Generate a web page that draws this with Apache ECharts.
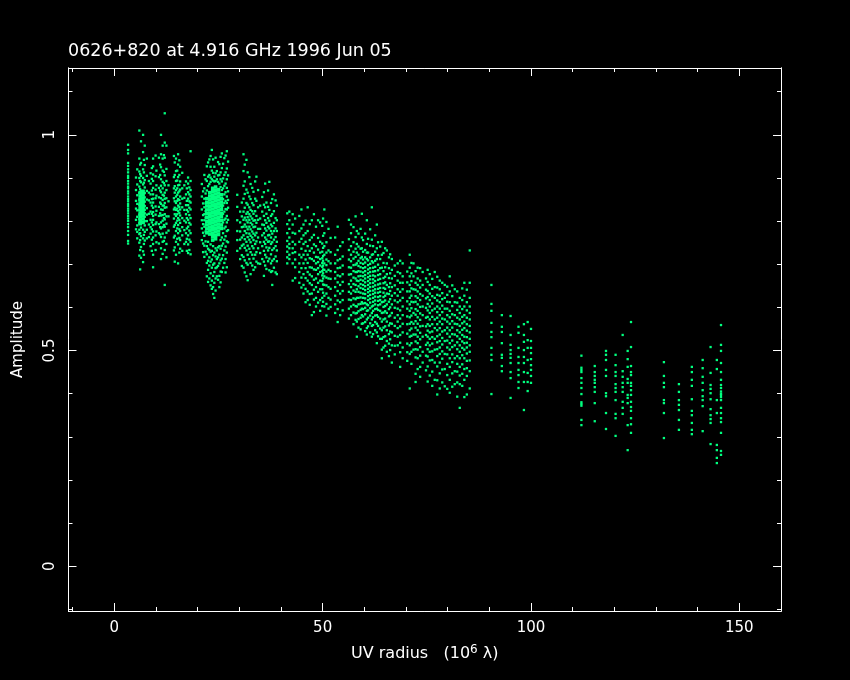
<!DOCTYPE html>
<html><head><meta charset="utf-8">
<style>html,body{margin:0;padding:0;background:#000}#c{width:850px;height:680px}</style>
<script src="https://cdn.jsdelivr.net/npm/echarts@6/dist/echarts.min.js"></script>
</head><body><div id="c"></div>
<script>
const titleText='0626+820 at 4.916 GHz 1996 Jun 05';
const xName='UV radius   (10{sup|6} \u03bb)';
const yName='Amplitude';
const xMajor=[0,50,100,150];
const xMinor=[-10,10,20,30,40,60,70,80,90,110,120,130,140,160];
const yMajor=[0,0.5,1];
const yMinor=[-0.1,0.1,0.2,0.3,0.4,0.6,0.7,0.8,0.9,1.1];

const a3_3=[.977,.965,.957,.935,.928,.92,.913,.905,.9,.893,.887,.88,.876,.869,.864,.857,.851,.846,.84,.835,.829,.824,.818,.812,.806,.8,.793,.786,.777,.768,.754,.748];
const a5_5=[.92,.885,.86,.84,.825,.81,.79,.775,.76];
const a6_0=[1.01,.945,.915,.9,.88,.865,.85,.838,.826,.815,.805,.795,.78,.77,.75,.72];
const a6_4=[.985,.935,.905,.89,.87,.86,.853,.845,.838,.83,.823,.816,.809,.802,.795,.785,.765,.74,.715];
const a6_9=[1.0,.96,.92,.9,.885,.87,.861,.855,.847,.84,.833,.826,.82,.812,.805,.797,.78,.76,.73,.705];
const a7_3=[.975,.93,.895,.878,.865,.855,.845,.835,.826,.818,.81,.8,.79,.775,.755];
const a7_8=[.945,.905,.87,.85,.83,.815,.8,.78,.76];
const a8_7=[.911,.887,.862,.843,.822,.803,.786,.771,.742];
const a9_3=[.945,.927,.908,.893,.877,.862,.852,.843,.831,.821,.812,.803,.791,.776,.762,.747,.722,.693];
const a9_0=[.923,.898,.871,.851,.836,.817,.797,.781,.757,.731];
const a9_9=[.952,.904,.873,.853,.834,.815,.793,.767,.733];
const a10_7=[.947,.902,.877,.855,.833,.812,.793,.772,.748];
const a11_2=[1.0,.955,.925,.897,.882,.867,.853,.84,.827,.813,.797,.783,.763,.737,.712];
const a11_6=[.975,.945,.917,.891,.876,.861,.849,.836,.826,.814,.801,.786,.771,.752,.724];
const a12_1=[1.05,.982,.947,.906,.883,.866,.852,.842,.831,.816,.804,.787,.762,.733,.652];
const a12_5=[.975,.921,.893,.872,.853,.832,.811,.794,.773,.747,.716];
const a14_3=[.951,.902,.876,.853,.827,.806,.787,.762,.732];
const a14_8=[.945,.916,.893,.872,.857,.842,.826,.812,.796,.777,.752,.722];
const a15_3=[.955,.931,.902,.883,.866,.851,.836,.823,.807,.791,.772,.746,.702];
const a15_8=[.926,.892,.873,.857,.841,.827,.813,.796,.777,.756,.736];
const a16_3=[.912,.876,.852,.832,.807,.786,.767,.731];
const a17_2=[.892,.862,.837,.816,.797,.772,.752];
const a17_7=[.901,.887,.867,.852,.837,.822,.803,.787,.767,.746,.726];
const a18_3=[.962,.893,.872,.857,.843,.827,.807,.792,.772,.752,.723];
const a21_0=[.886,.857,.827,.802,.783,.756];
const a21_6=[.907,.876,.852,.832,.816,.802,.787,.766,.743,.717];
const a22_2=[.927,.893,.871,.742,.723,.703,.672];
const a22_8=[.943,.907,.886,.733,.716,.697,.667];
const a23_4=[.965,.917,.897,.731,.711,.692,.662,.643];
const a24_0=[.926,.903,.892,.727,.702,.682,.657,.622];
const a24_6=[.916,.897,.732,.712,.693,.672];
const a25_2=[.932,.907,.887,.742,.722,.702,.673,.647];
const a25_8=[.957,.923,.892,.872,.853,.832,.812,.792,.762,.743,.713,.682];
const a26_4=[.946,.907,.882,.862,.842,.822,.803,.783,.757,.732,.703];
const a27_0=[.962,.922,.897,.877,.857,.842,.827,.812,.797,.777,.753,.727,.693];
const a29_5=[.861,.833,.802,.777,.756,.731];
const a30_2=[.822,.797,.776,.757,.737,.712];
const a31_0=[.955,.916,.882,.852,.822,.803,.787,.767,.746,.717,.692];
const a31_7=[.942,.873,.842,.817,.802,.787,.772,.752,.732,.703,.672];
const a32_4=[.902,.857,.832,.816,.803,.787,.771,.757,.736,.712];
const a33_1=[.877,.842,.823,.806,.792,.776,.762,.742,.722,.697];
const a33_8=[.892,.852,.823,.802,.787,.767,.747,.722,.693];
const a34_5=[.872,.832,.803,.782,.762,.737,.702];
const a35_5=[.856,.822,.792,.767,.742,.712];
const a36_2=[.887,.832,.802,.783,.762,.747,.722,.697];
const a36_9=[.871,.833,.807,.787,.767,.752,.732,.707];
const a37_6=[.842,.812,.792,.777,.762,.747,.723,.702,.682];
const a38_3=[.862,.823,.796,.777,.757,.737,.712,.692];
const a39_0=[.836,.802,.777,.752,.732,.707,.677];
const a42_0=[.822,.802,.782,.762,.747,.737,.722,.712];
const a42_8=[.816,.792,.773,.752,.737,.726,.702,.662];
const a44_4=[.812,.777,.752,.722,.702,.682,.657];
const a45_4=[.792,.767,.747,.722,.702,.677,.652,.632];
const a46_4=[.832,.777,.742,.722,.703,.682,.662,.637,.617];
const a47_4=[.802,.762,.737,.712,.692,.672,.652,.632,.582];
const a48_4=[.787,.742,.717,.702,.687,.667,.647,.622,.602];
const a49_4=[.797,.752,.727,.712,.697,.682,.662,.642,.617,.592];
const a50_4=[.827,.772,.742,.722,.702,.687,.672,.652,.627,.602];
const a51_4=[.782,.732,.707,.687,.667,.647,.622,.597];
const a53_0=[.762,.722,.702,.682,.667,.647,.627,.607,.587];
const a54_2=[.742,.712,.692,.672,.652,.632,.612,.582];
const a56_8=[.792,.772,.742,.722,.707,.692,.677,.662,.647,.632,.617,.602,.582];
const a58_2=[.777,.747,.727,.702,.682,.662,.642,.622,.602,.587,.567,.532];
const a59_4=[.817,.762,.737,.717,.612,.597,.582,.562];
const a60_6=[.802,.747,.727,.712,.607,.592,.572,.552,.537];
const a61_8=[.832,.757,.722,.707,.602,.587,.572,.557,.532];
const a63_0=[.792,.737,.712,.597,.582,.562,.542,.517];
const a64_2=[.752,.722,.692,.612,.587,.567,.547,.527,.502,.482];
const a65_4=[.732,.702,.677,.652,.632,.607,.587,.567,.547,.522,.497];
const a66_6=[.712,.687,.667,.647,.627,.607,.587,.562,.542,.512,.472];
const a68_0=[.702,.682,.662,.642,.627,.612,.597,.582,.567,.552,.532,.512];
const a69_2=[.702,.672,.657,.642,.622,.602,.582,.562,.542,.507,.482];
const a70_9=[.722,.692,.672,.652,.637,.622,.607,.592,.577,.562,.547,.532,.512,.492,.412];
const a71_8=[.702,.672,.642,.612,.587,.562,.537,.502];
const a72_8=[.692,.667,.652,.637,.622,.607,.592,.577,.562,.547,.532,.517,.502,.482,.457];
const a74_0=[.682,.652,.627,.602,.582,.557,.532,.497,.472];
const a75_7=[.677,.652,.632,.617,.602,.587,.572,.557,.542,.527,.512,.497,.477,.442];
const a76_9=[.682,.647,.622,.597,.572,.552,.527,.502,.472,.432];
const a78_1=[.662,.642,.627,.612,.597,.582,.567,.552,.537,.522,.507,.492,.472,.447,.412];
const a79_3=[.652,.622,.597,.572,.547,.522,.492,.457,.417];
const a80_5=[.672,.637,.612,.592,.577,.562,.547,.532,.517,.502,.482,.462,.432,.402];
const a81_7=[.642,.612,.582,.562,.537,.512,.482,.452,.422];
const a82_9=[.622,.602,.587,.572,.557,.542,.527,.512,.497,.482,.462,.442,.422,.367];
const a84_0=[.657,.627,.602,.582,.567,.552,.532,.517,.502,.482,.457,.432,.392];
const a85_3=[.732,.657,.622,.602,.587,.572,.557,.542,.527,.512,.497,.477,.452,.412];

const b5_2=[.901,.872,.847,.829,.803,.781];
const b6_2=[.931,.909,.893,.874,.772,.756,.733,.688];
const b7_1=[.942,.913,.889,.768,.747,.722];
const b8_3=[.893,.866,.848,.817,.792,.763];
const b10_1=[.917,.883,.859,.824,.797,.776,.751];
const b11_0=[.931,.907,.871,.843,.818,.786,.769];
const b11_9=[.953,.914,.888,.859,.836,.807,.791,.754];
const b13_0=[.883,.846,.811,.778];
const b14_5=[.936,.907,.881,.866,.846,.831,.816,.791,.766,.739,.706];
const b15_1=[.917,.894,.876,.861,.847,.829,.816,.801,.783,.759];
const b15_6=[.941,.907,.884,.869,.849,.833,.819,.803,.781,.761,.727];
const b16_8=[.883,.854,.826,.801,.779,.747];
const b17_4=[.876,.847,.826,.807,.783,.759,.731];
const b18_0=[.878,.862,.846,.831,.814,.796,.778,.757,.733];
const b21_3=[.869,.841,.814,.793,.773,.748,.728];
const b21_9=[.897,.864,.841,.823,.808,.792,.776,.753,.729];
const b22_5=[.936,.903,.881,.752,.736,.708,.687,.659];
const b23_1=[.951,.926,.901,.891,.746,.729,.706,.679,.651];
const b23_7=[.943,.912,.894,.742,.721,.699,.673,.647,.631];
const b24_3=[.947,.911,.893,.737,.718,.691,.667,.639];
const b24_9=[.937,.906,.891,.739,.716,.696,.664];
const b25_5=[.949,.913,.897,.879,.861,.756,.736,.709,.683,.658];
const b26_1=[.933,.899,.876,.851,.836,.817,.797,.772,.748,.721,.692];
const b26_7=[.952,.913,.887,.867,.847,.828,.806,.787,.765,.741,.712,.681];
const b27_3=[.938,.906,.869,.849,.831,.803,.779,.751];
const b30_6=[.843,.811,.786,.762,.743,.721,.696];
const b31_3=[.931,.892,.863,.831,.808,.792,.777,.758,.738,.709,.681];
const b32_0=[.913,.866,.838,.821,.809,.797,.781,.763,.743,.722,.699,.663];
const b32_7=[.886,.851,.826,.811,.796,.781,.766,.751,.728,.703,.677];
const b33_4=[.868,.837,.817,.801,.786,.771,.756,.737,.713,.687];
const b34_1=[.903,.847,.812,.796,.773,.753,.728,.706];
const b35_0=[.836,.806,.782,.751,.726,.701];
const b35_9=[.867,.838,.812,.791,.772,.752,.731,.706,.673];
const b36_5=[.843,.817,.796,.778,.757,.739,.716,.689];
const b37_2=[.891,.826,.801,.783,.768,.753,.738,.713,.686];
const b37_9=[.851,.816,.788,.771,.751,.733,.708,.684,.652];
const b38_7=[.848,.807,.783,.763,.742,.718,.681];
const b41_5=[.818,.793,.772,.754,.741,.729,.716,.702];
const b43_4=[.806,.771,.746,.728,.711,.693,.668];
const b44_9=[.827,.783,.759,.736,.716,.691,.669,.646];
const b45_9=[.801,.772,.752,.731,.711,.691,.668,.643,.612];
const b46_9=[.793,.756,.731,.714,.693,.676,.656,.631,.606];
const b47_9=[.816,.768,.746,.727,.708,.688,.664,.641,.618,.589];
const b48_9=[.802,.761,.734,.716,.705,.691,.677,.657,.636,.611];
const b49_9=[.789,.748,.729,.714,.703,.694,.684,.674,.661,.642,.622,.603];
const b50_1=[.806,.766,.738,.719,.708,.697,.688,.679,.667,.653,.634,.613];
const b50_9=[.798,.751,.727,.711,.698,.683,.669,.651,.632,.608,.581];
const b51_9=[.761,.728,.702,.684,.666,.643,.618,.601];
const b53_6=[.787,.733,.709,.691,.674,.658,.638,.616,.596,.566];
const b54_8=[.751,.718,.697,.677,.659,.638,.617,.593];
const b56_3=[.803,.758,.733,.711,.693,.676,.654,.636,.618,.597,.574];
const b57_4=[.786,.751,.729,.713,.698,.684,.669,.654,.639,.621,.606,.588,.561];
const b57_9=[.811,.763,.736,.717,.699,.682,.667,.652,.636,.619,.603,.586,.571];
const b58_6=[.771,.741,.722,.708,.696,.684,.672,.661,.649,.636,.622,.607,.591,.573,.553];
const b59_1=[.782,.736,.714,.703,.693,.683,.673,.664,.654,.645,.634,.623,.608,.594,.576,.549];
const b59_7=[.756,.729,.711,.701,.691,.681,.672,.662,.652,.643,.632,.622,.609,.596,.579,.563];
const b60_2=[.771,.733,.716,.704,.693,.684,.675,.667,.658,.649,.64,.631,.621,.61,.599,.584,.566,.545];
const b60_9=[.759,.727,.709,.698,.688,.679,.67,.661,.652,.643,.635,.626,.617,.605,.593,.576,.556];
const b61_4=[.781,.743,.716,.701,.691,.682,.673,.665,.656,.647,.638,.629,.62,.611,.598,.581,.563,.542];
const b62_1=[.742,.723,.704,.692,.683,.674,.665,.657,.648,.639,.631,.622,.613,.604,.592,.577,.559,.538];
const b62_6=[.767,.729,.708,.694,.684,.672,.661,.651,.642,.634,.625,.616,.607,.596,.581,.566,.547];
const b63_3=[.751,.721,.699,.686,.675,.664,.653,.643,.634,.624,.615,.605,.594,.578,.557,.533];
const b63_8=[.741,.712,.691,.677,.666,.655,.645,.636,.626,.617,.607,.592,.574,.551,.527];
const b64_6=[.726,.703,.684,.668,.656,.645,.634,.624,.613,.601,.588,.572,.553,.531,.507];
const b65_0=[.737,.693,.671,.658,.643,.627,.616,.603,.591,.574,.556,.533,.511];
const b65_9=[.716,.691,.668,.647,.631,.613,.596,.579,.558,.538,.516,.487];
const b66_2=[.723,.679,.656,.638,.619,.6,.581,.563,.544,.526,.501];
const b67_3=[.697,.673,.651,.633,.616,.599,.576,.557,.534,.511,.491];
const b68_6=[.708,.679,.657,.636,.616,.593,.574,.556,.536,.518,.496,.462];
const b70_3=[.683,.658,.637,.614,.597,.579,.561,.539,.516,.496,.476];
const b71_3=[.703,.679,.661,.644,.627,.613,.598,.581,.566,.551,.534,.517,.497,.469];
const b72_3=[.684,.657,.641,.626,.613,.596,.583,.568,.553,.537,.521,.503,.484,.446,.427];
const b73_4=[.691,.662,.646,.631,.617,.601,.586,.571,.556,.541,.526,.508,.488,.462,.439];
const b74_8=[.667,.641,.621,.599,.576,.556,.536,.513,.488,.454];
const b75_2=[.687,.659,.638,.624,.608,.593,.578,.561,.546,.532,.518,.503,.486,.463,.428];
const b76_3=[.666,.643,.626,.609,.593,.578,.561,.544,.531,.516,.498,.478,.451,.418];
const b77_5=[.671,.646,.629,.616,.602,.589,.576,.561,.547,.533,.519,.503,.487,.463,.431,.398];
const b78_7=[.657,.633,.619,.604,.589,.574,.561,.544,.529,.514,.498,.481,.456,.426];
const b79_9=[.648,.629,.613,.597,.582,.567,.553,.539,.523,.507,.491,.469,.443,.411];
const b81_1=[.651,.626,.603,.584,.568,.553,.538,.523,.508,.491,.473,.447,.416];
const b82_3=[.637,.611,.594,.576,.561,.547,.533,.519,.503,.487,.469,.451,.426,.393];
const b83_5=[.644,.617,.596,.578,.563,.548,.536,.521,.506,.489,.468,.446,.418];
const b84_6=[.641,.612,.593,.576,.561,.546,.531,.518,.507,.493,.476,.459,.441,.398];

const a90_5=[.652,.608,.592,.564,.543,.531,.506,.49,.478,.399];
const a93_0=[.582,.555,.543,.517,.49,.483,.464,.452];
const a95_1=[.58,.536,.513,.501,.492,.483,.471,.45,.436,.39];
const a97_0=[.555,.541,.506,.485,.471,.455,.443,.427,.413];
const a98_3=[.561,.536,.52,.501,.485,.471,.45,.427,.362];
const a99_2=[.566,.524,.506,.478,.448,.427,.406];
const a100_0=[.55,.522,.506,.494,.48,.466,.455,.441,.425];
const a112_1=[.488,.46,.455,.45,.436,.425,.413,.399,.38,.376,.372,.339,.327];
const a115_3=[.464,.45,.441,.432,.425,.415,.404,.378,.336];
const a118_0=[.499,.49,.478,.455,.441,.401,.394,.355,.318];
const a120_3=[.49,.466,.45,.441,.422,.413,.404,.385,.353,.343,.302];
const a122_0=[.536,.452,.439,.425,.415,.404,.381,.367,.353];
const a123_2=[.499,.48,.462,.434,.425,.397,.39,.378,.327,.269];
const a124_0=[.566,.508,.464,.45,.443,.425,.418,.408,.397,.381,.369,.36,.343,.329,.309];
const a131_9=[.473,.441,.425,.415,.385,.378,.355,.297];
const a135_5=[.422,.404,.385,.374,.362,.339,.316];
const a138_6=[.462,.45,.432,.418,.387,.36,.35,.332,.316,.306];
const a141_2=[.478,.459,.439,.425,.408,.394,.385,.371,.313];
const a143_1=[.508,.448,.42,.411,.401,.387,.364,.35,.341,.332,.283];
const a144_6=[.478,.457,.385,.355,.281,.269,.251,.239];
const a145_6=[.559,.513,.499,.471,.45,.432,.42,.413,.405,.4,.397,.392,.385,.367,.355,.343,.334,.309,.267,.258];

const c6_2=[.866,.858,.85,.842,.834,.826,.818,.81,.802,.794];
const c6_9=[.869,.861,.853,.845,.837,.829,.821,.813,.805,.797];
const c22_2=[.852,.843,.835,.826,.817,.808,.799,.791,.782,.773];
const c22_9=[.866,.858,.85,.842,.834,.826,.818,.81,.802,.794,.786,.778,.77];
const c23_6=[.876,.868,.86,.852,.844,.836,.828,.82,.812,.804,.796,.788,.78,.772,.764,.756];
const c24_3=[.879,.871,.863,.855,.847,.839,.831,.823,.815,.807,.799,.791,.783,.775,.767,.759];
const c25_0=[.873,.865,.857,.849,.841,.833,.825,.817,.809,.801,.793,.785,.777,.769];
const c25_7=[.861,.852,.844,.836,.827,.818,.81,.801,.791,.783];

const columns=[[3.3,a3_3],[5.5,a5_5],[6.0,a6_0],[6.4,a6_4],[6.9,a6_9],[7.3,a7_3],[7.8,a7_8],[8.7,a8_7],[9.0,a9_0],[9.3,a9_3],[9.9,a9_9],[10.7,a10_7],[11.2,a11_2],[11.6,a11_6],[12.1,a12_1],[12.5,a12_5],[14.3,a14_3],[14.8,a14_8],[15.3,a15_3],[15.8,a15_8],[16.3,a16_3],[17.2,a17_2],[17.7,a17_7],[18.3,a18_3],[21.0,a21_0],[21.6,a21_6],[22.2,a22_2],[22.8,a22_8],[23.4,a23_4],[24.0,a24_0],[24.6,a24_6],[25.2,a25_2],[25.8,a25_8],[26.4,a26_4],[27.0,a27_0],[29.5,a29_5],[30.2,a30_2],[31.0,a31_0],[31.7,a31_7],[32.4,a32_4],[33.1,a33_1],[33.8,a33_8],[34.5,a34_5],[35.5,a35_5],[36.2,a36_2],[36.9,a36_9],[37.6,a37_6],[38.3,a38_3],[39.0,a39_0],[42.0,a42_0],[42.8,a42_8],[44.4,a44_4],[45.4,a45_4],[46.4,a46_4],[47.4,a47_4],[48.4,a48_4],[49.4,a49_4],[50.4,a50_4],[51.4,a51_4],[53.0,a53_0],[54.2,a54_2],[56.8,a56_8],[58.2,a58_2],[59.4,a59_4],[60.6,a60_6],[61.8,a61_8],[63.0,a63_0],[64.2,a64_2],[65.4,a65_4],[66.6,a66_6],[68.0,a68_0],[69.2,a69_2],[70.9,a70_9],[71.8,a71_8],[72.8,a72_8],[74.0,a74_0],[75.7,a75_7],[76.9,a76_9],[78.1,a78_1],[79.3,a79_3],[80.5,a80_5],[81.7,a81_7],[82.9,a82_9],[84.0,a84_0],[85.3,a85_3],
[5.2,b5_2],[6.2,b6_2],[7.1,b7_1],[8.3,b8_3],[10.1,b10_1],[11.0,b11_0],[11.9,b11_9],[13.0,b13_0],[14.5,b14_5],[15.1,b15_1],[15.6,b15_6],[16.8,b16_8],[17.4,b17_4],[18.0,b18_0],[21.3,b21_3],[21.9,b21_9],[22.5,b22_5],[23.1,b23_1],[23.7,b23_7],[24.3,b24_3],[24.9,b24_9],[25.5,b25_5],[26.1,b26_1],[26.7,b26_7],[27.3,b27_3],[30.6,b30_6],[31.3,b31_3],[32.0,b32_0],[32.7,b32_7],[33.4,b33_4],[34.1,b34_1],[35.0,b35_0],[35.9,b35_9],[36.5,b36_5],[37.2,b37_2],[37.9,b37_9],[38.7,b38_7],[41.5,b41_5],[43.4,b43_4],[44.9,b44_9],[45.9,b45_9],[46.9,b46_9],[47.9,b47_9],[48.9,b48_9],[49.9,b49_9],[50.1,b50_1],[50.9,b50_9],[51.9,b51_9],[53.6,b53_6],[54.8,b54_8],[56.3,b56_3],[57.4,b57_4],[57.9,b57_9],[58.6,b58_6],[59.1,b59_1],[59.7,b59_7],[60.2,b60_2],[60.9,b60_9],[61.4,b61_4],[62.1,b62_1],[62.6,b62_6],[63.3,b63_3],[63.8,b63_8],[64.6,b64_6],[65.0,b65_0],[65.9,b65_9],[66.2,b66_2],[67.3,b67_3],[68.6,b68_6],[70.3,b70_3],[71.3,b71_3],[72.3,b72_3],[73.4,b73_4],[74.8,b74_8],[75.2,b75_2],[76.3,b76_3],[77.5,b77_5],[78.7,b78_7],[79.9,b79_9],[81.1,b81_1],[82.3,b82_3],[83.5,b83_5],[84.6,b84_6],
[90.5,a90_5],[93.0,a93_0],[95.1,a95_1],[97.0,a97_0],[98.3,a98_3],[99.2,a99_2],[100.0,a100_0],[112.1,a112_1],[115.3,a115_3],[118.0,a118_0],[120.3,a120_3],[122.0,a122_0],[123.2,a123_2],[124.0,a124_0],[131.9,a131_9],[135.5,a135_5],[138.6,a138_6],[141.2,a141_2],[143.1,a143_1],[144.6,a144_6],[145.6,a145_6]];
const coreColumns=[[6.2,c6_2],[6.9,c6_9],[22.2,c22_2],[22.9,c22_9],[23.6,c23_6],[24.3,c24_3],[25.0,c25_0],[25.7,c25_7]];

const toPoints=cols=>cols.flatMap(([x,ys])=>ys.map(y=>[x,y]));
const XMIN=-11,XMAX=160,YMIN=-0.104,YMAX=1.155;
const white='#ffffff';
const font='"DejaVu Sans",sans-serif';
const xAx=(pos,vals,len,labels,name)=>({type:'value',position:pos,min:XMIN,max:XMAX,
  name:name||'',nameLocation:'middle',nameGap:33,nameTextStyle:{color:white,fontFamily:font,fontSize:16,rich:{sup:{color:white,fontFamily:font,fontSize:12,padding:[0,0,7,0]}}},
  axisLine:{show:true,onZero:false,lineStyle:{color:white,width:1}},
  axisTick:{show:true,inside:true,length:len,customValues:vals,lineStyle:{color:white,width:1}},
  axisLabel:{show:labels,customValues:labels?vals:undefined,color:white,fontFamily:font,fontSize:15,margin:10,formatter:v=>String(v)},
  splitLine:{show:false}});
const yAx=(pos,vals,len,labels,name)=>({type:'value',position:pos,min:YMIN,max:YMAX,
  name:name||'',nameLocation:'middle',nameGap:43,nameRotate:90,nameTextStyle:{color:white,fontFamily:font,fontSize:15},
  axisLine:{show:true,onZero:false,lineStyle:{color:white,width:1}},
  axisTick:{show:true,inside:true,length:len,customValues:vals,lineStyle:{color:white,width:1}},
  axisLabel:{show:labels,customValues:labels?vals:undefined,rotate:90,color:white,fontFamily:font,fontSize:15,margin:11,formatter:v=>String(v)},
  splitLine:{show:false}});
const chart=echarts.init(document.getElementById('c'),null,{renderer:'canvas',width:850,height:680});
chart.setOption({
  backgroundColor:'#000000',animation:false,
  title:{text:titleText,left:68,top:42,padding:0,textStyle:{color:white,fontFamily:font,fontSize:17.5,fontWeight:'normal'}},
  grid:{left:68.5,right:69,top:68,bottom:69,containLabel:false},
  xAxis:[xAx('bottom',xMajor,8,true,xName),xAx('bottom',xMinor,4,false),xAx('top',xMajor,8,false),xAx('top',xMinor,4,false)],
  yAxis:[yAx('left',yMajor,8,true,yName),yAx('left',yMinor,4,false),yAx('right',yMajor,8,false),yAx('right',yMinor,4,false)],
  series:[
    {type:'scatter',silent:true,symbol:'rect',symbolSize:2.3,itemStyle:{color:'#00ff7f',opacity:1},data:toPoints(columns)},
    {type:'scatter',silent:true,symbol:'rect',symbolSize:3.6,itemStyle:{color:'#00ff7f',opacity:1},data:toPoints(coreColumns)}
  ]
});
</script></body></html>
